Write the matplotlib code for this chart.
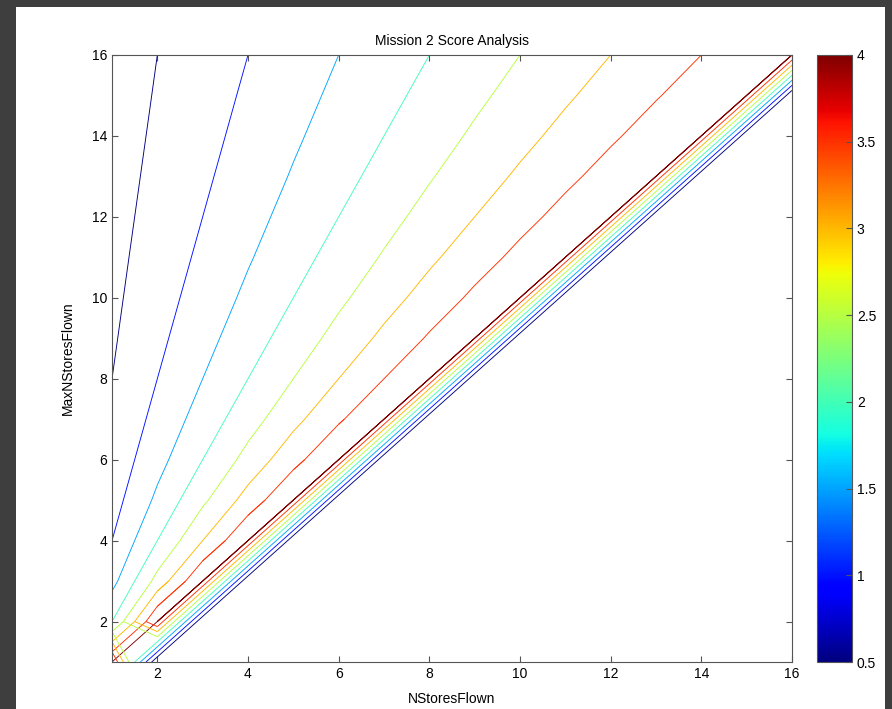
import numpy as np
import matplotlib
matplotlib.use("Agg")
import matplotlib.pyplot as plt
import matplotlib.tri as mtri
from matplotlib.patches import Rectangle
from matplotlib.cm import ScalarMappable
from matplotlib.colors import Normalize

plt.rcParams['font.family'] = ['Liberation Sans', 'DejaVu Sans']

# grid of the score table
n_flown = [1, 2, 3, 4, 5, 6, 7, 8, 9, 10, 11, 12, 13, 14, 15, 16]
max_n_flown = [1, 2, 3, 4, 5, 6, 7, 8, 9, 10, 11, 12, 13, 14, 15, 16]

# score per row of MaxNStoresFlown (columns NStoresFlown = 1..m), 0 beyond the diagonal
score_rows = [
    [4],
    [2, 4],
    [1.333, 2.667, 4],
    [1, 2, 3, 4],
    [0.8, 1.6, 2.4, 3.2, 4],
    [0.667, 1.333, 2, 2.667, 3.333, 4],
    [0.571, 1.143, 1.714, 2.286, 2.857, 3.429, 4],
    [0.5, 1, 1.5, 2, 2.5, 3, 3.5, 4],
    [0.444, 0.889, 1.333, 1.778, 2.222, 2.667, 3.111, 3.556, 4],
    [0.4, 0.8, 1.2, 1.6, 2, 2.4, 2.8, 3.2, 3.6, 4],
    [0.364, 0.727, 1.091, 1.455, 1.818, 2.182, 2.545, 2.909, 3.273, 3.636, 4],
    [0.333, 0.667, 1, 1.333, 1.667, 2, 2.333, 2.667, 3, 3.333, 3.667, 4],
    [0.308, 0.615, 0.923, 1.231, 1.538, 1.846, 2.154, 2.462, 2.769, 3.077, 3.385, 3.692, 4],
    [0.286, 0.571, 0.857, 1.143, 1.429, 1.714, 2, 2.286, 2.571, 2.857, 3.143, 3.429, 3.714, 4],
    [0.267, 0.533, 0.8, 1.067, 1.333, 1.6, 1.867, 2.133, 2.4, 2.667, 2.933, 3.2, 3.467, 3.733, 4],
    [0.25, 0.5, 0.75, 1, 1.25, 1.5, 1.75, 2, 2.25, 2.5, 2.75, 3, 3.25, 3.5, 3.75, 4],
]
levels = [0.5, 1, 1.5, 2, 2.5, 3, 3.5, 3.999]
cbar_ticks = [0.5, 1, 1.5, 2, 2.5, 3, 3.5, 4]
x_ticks = [2, 4, 6, 8, 10, 12, 14, 16]
y_ticks = [2, 4, 6, 8, 10, 12, 14, 16]

nr, nc = len(max_n_flown), len(n_flown)
Z = np.zeros((nr, nc))
for i, row in enumerate(score_rows):
    Z[i, :len(row)] = row
X, Y = np.meshgrid(n_flown, max_n_flown)

# cells above the diagonal: normal bilinear contouring
Zm = np.ma.masked_where(X > Y, Z)


def idx(i, j):
    return i * nc + j


# cells along the diagonal and just below it: split on the rising diagonal
# so the ridge stays connected (the first corner cell is done bilinearly)
tris = []
for k in range(1, nr - 1):
    a, b = idx(k, k), idx(k, k + 1)
    c, d = idx(k + 1, k), idx(k + 1, k + 1)
    tris += [[a, b, d], [a, d, c]]
for k in range(0, nc - 2):
    a, b = idx(k, k + 1), idx(k, k + 2)
    c, d = idx(k + 1, k + 1), idx(k + 1, k + 2)
    tris += [[a, b, d], [a, d, c]]
tri = mtri.Triangulation(X.ravel(), Y.ravel(), tris)

W, H = 892, 709
fig = plt.figure(figsize=(W / 100, H / 100), dpi=100, facecolor='#3e3e3e')
fig.patches.append(Rectangle((16 / W, 0), (885 - 16) / W, (H - 7) / H,
                             transform=fig.transFigure, facecolor='white',
                             edgecolor='none', zorder=-10))

bottom = (H - 662) / H
height = (662 - 55) / H
ax = fig.add_axes([112 / W, bottom, (792 - 112) / W, height])
cax = fig.add_axes([817 / W, bottom, 35 / W, height])

norm = Normalize(vmin=0.5, vmax=4)
kw = dict(levels=levels, cmap='jet', norm=norm, linewidths=0.65)
ax.contour(X, Y, Zm, **kw)
ax.contour(X[:2, :2], Y[:2, :2], Z[:2, :2], **kw)
ax.tricontour(tri, Z.ravel(), **kw)
ax.set_xlim(1, 16)
ax.set_ylim(1, 16)
ax.set_xticks(x_ticks)
ax.set_yticks(y_ticks)
ax.tick_params(direction='in', top=True, right=True, labelsize=10,
               length=4, color='#555555')
for s in ax.spines.values():
    s.set_color('#555555')
ax.set_title('Mission 2 Score Analysis', fontsize=10, pad=7)
ax.set_xlabel('NStoresFlown', fontsize=10, labelpad=8)
ax.set_ylabel('MaxNStoresFlown', fontsize=10, labelpad=12)

cb = fig.colorbar(ScalarMappable(norm=norm, cmap='jet'), cax=cax)
cb.set_ticks(cbar_ticks)
cb.set_ticklabels(['0.5', '1', '1.5', '2', '2.5', '3', '3.5', '4'])
cb.ax.tick_params(direction='in', labelsize=10, length=4, color='#555555')
cb.outline.set_edgecolor('#555555')

fig.savefig('out.png', dpi=100, facecolor=fig.get_facecolor())
